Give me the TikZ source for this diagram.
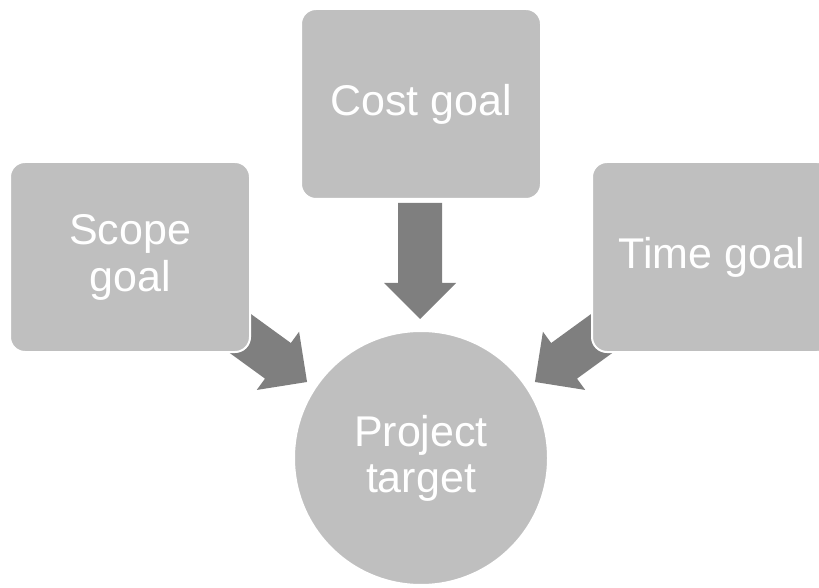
\documentclass[tikz,border=0pt]{standalone}
\usepackage{fontspec}
\setmainfont{Liberation Sans}
\begin{document}
\begin{tikzpicture}[x=1pt,y=1pt,
  goalbox/.style={rectangle, rounded corners=15pt, fill=boxgray, draw=white,
    line width=2pt, minimum width=240pt, minimum height=190pt,
    text=white, align=center, font=\fontsize{43}{47}\selectfont, inner sep=0pt},
  targetdisc/.style={circle, fill=boxgray, draw=white, line width=2pt,
    minimum size=254pt, text=white, align=center,
    font=\fontsize{43}{46}\selectfont, inner sep=0pt},
  blockarrow/.style={fill=arrowgray}]
\definecolor{boxgray}{HTML}{BFBFBF}
\definecolor{arrowgray}{HTML}{7F7F7F}
\useasboundingbox (0,0) rectangle (819,587);
\clip (0,0) rectangle (819,587);

% arrow tails (arrows are drawn along +x in local coordinates, then rotated)
\coordinate (costtail)  at (420,384);
\coordinate (scopetail) at (213.2,273.2);
\coordinate (timetail)  at (628.8,273.2);

\foreach \tail/\ang in {costtail/-90, scopetail/-36, timetail/216}{
  \begin{scope}[shift={(\tail)}, rotate=\ang]
    \fill[blockarrow] (0,-22) -- (80,-22) -- (80,-36) -- (116,0)
      -- (80,36) -- (80,22) -- (0,22) -- cycle;
  \end{scope}
}

% goal boxes and the target
\node[goalbox] (cost)  at (421,483) {Cost goal};
\node[goalbox] (scope) at (130,330) {Scope\\goal};
\node[goalbox] (time)  at (712,330) {Time goal};
\node[targetdisc] (target) at (421,129) {Project\\target};
\end{tikzpicture}
\end{document}
